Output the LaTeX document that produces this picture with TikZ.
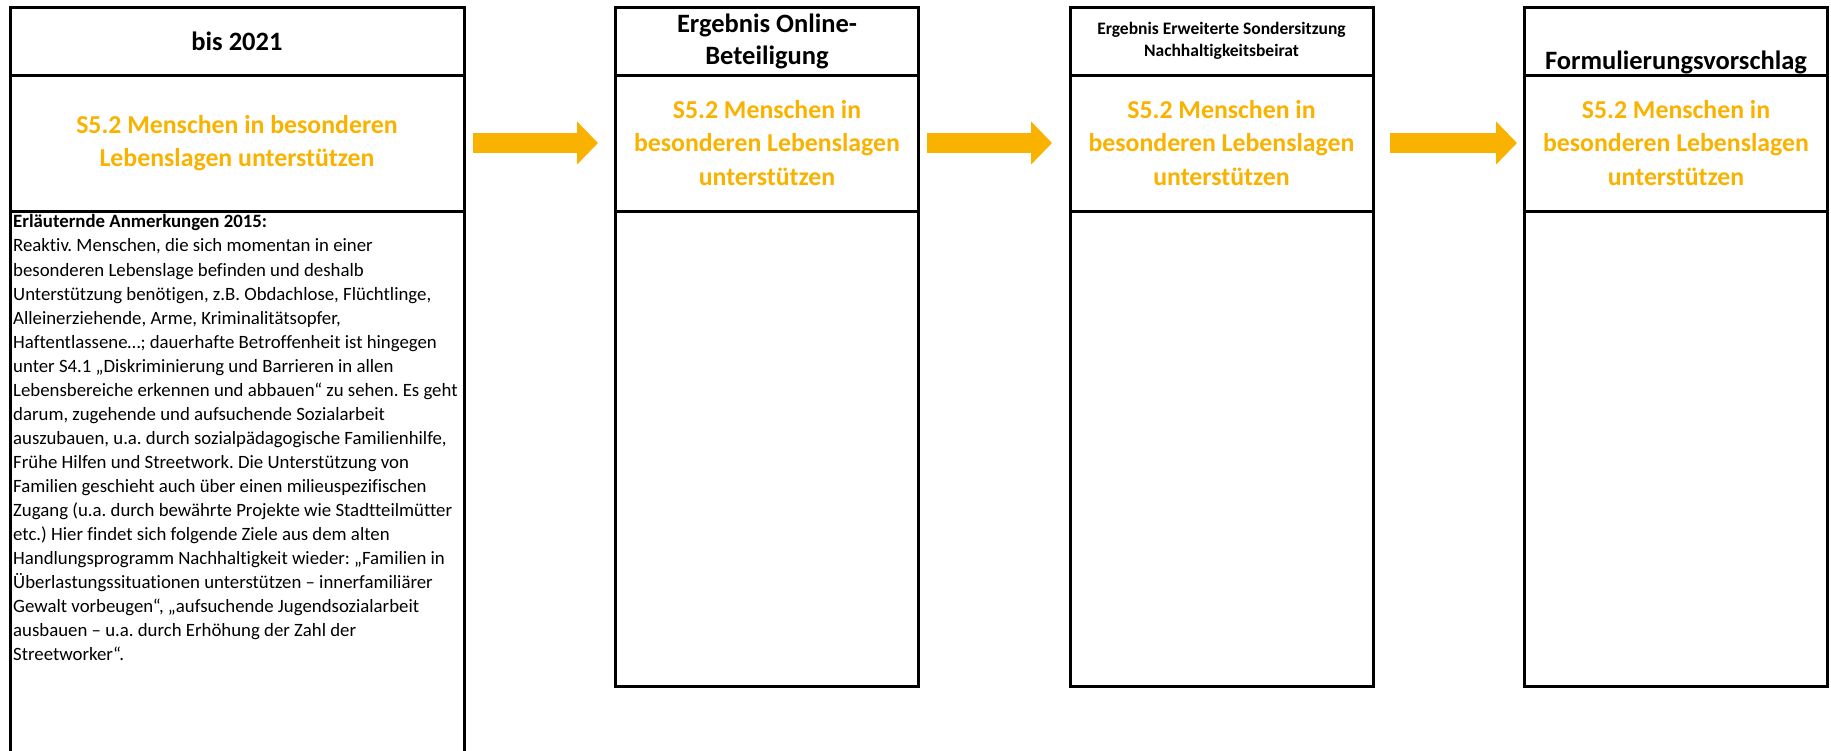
\documentclass[tikz,border=0pt]{standalone}
\usepackage{fontspec}
\setmainfont{Carlito}[Ligatures={NoCommon}]
\usetikzlibrary{positioning,arrows.meta}
\definecolor{Gelb}{RGB}{250,178,0}
\frenchspacing

\begin{document}
\begin{tikzpicture}[x=1pt,y=-1pt,
 zelle/.style={draw,line width=3pt,minimum width=303pt,inner sep=0pt,outer sep=0pt},
 kopf/.style={zelle,minimum height=68pt,align=center,font=\fontsize{26.5}{32}\selectfont\bfseries},
 titel/.style={zelle,minimum height=136pt,align=center,text=Gelb,font=\fontsize{25.8}{33.5}\selectfont\bfseries},
 rumpf/.style={zelle,minimum height=475pt},
 pfeil/.style={draw=Gelb,line width=20pt,-{Triangle[length=21pt,width=42pt]}}]
\useasboundingbox (0,0) rectangle (1831,750);

% bis 2021
\node[kopf,minimum width=454pt,anchor=north west] (kopf1) at (10,7) {bis 2021};
\node[titel,minimum width=454pt,below=0pt of kopf1] (titel1) {S5.2 Menschen in besonderen\\Lebenslagen unterstützen};
\node[rumpf,minimum width=454pt,minimum height=560pt,below=0pt of titel1] (rumpf1) {};
\node[anchor=north west,align=left,inner sep=0pt,font=\fontsize{18.8}{24.05}\selectfont] (text1)
 at ([xshift=3pt,yshift=-3.5pt]rumpf1.north west) {{\bfseries Erläuternde Anmerkungen 2015:}\\
Reaktiv. Menschen, die sich momentan in einer\\
besonderen Lebenslage befinden und deshalb\\
Unterstützung benötigen, z.B. Obdachlose, Flüchtlinge,\\
Alleinerziehende, Arme, Kriminalitätsopfer,\\
Haftentlassene…; dauerhafte Betroffenheit ist hingegen\\
unter S4.1 „Diskriminierung und Barrieren in allen\\
Lebensbereiche erkennen und abbauen“ zu sehen. Es geht\\
darum, zugehende und aufsuchende Sozialarbeit\\
auszubauen, u.a. durch sozialpädagogische Familienhilfe,\\
Frühe Hilfen und Streetwork. Die Unterstützung von\\
Familien geschieht auch über einen milieuspezifischen\\
Zugang (u.a. durch bewährte Projekte wie Stadtteilmütter\\
etc.) Hier findet sich folgende Ziele aus dem alten\\
Handlungsprogramm Nachhaltigkeit wieder: „Familien in\\
Überlastungssituationen unterstützen – innerfamiliärer\\
Gewalt vorbeugen“, „aufsuchende Jugendsozialarbeit\\
ausbauen – u.a. durch Erhöhung der Zahl der\\
Streetworker“.};

% Online-Beteiligung
\node[kopf,right=151.5pt of kopf1] (kopf2) {\raisebox{-3pt}{Ergebnis Online-}\\\raisebox{-3pt}{Beteiligung}};
\node[titel,below=0pt of kopf2] (titel2) {S5.2 Menschen in\\besonderen Lebenslagen\\unterstützen};
\node[rumpf,below=0pt of titel2] (rumpf2) {};

% Sondersitzung
\node[kopf,right=151.5pt of kopf2,font=\fontsize{17.5}{22}\selectfont\bfseries] (kopf3) {Ergebnis Erweiterte Sondersitzung\\Nachhaltigkeitsbeirat};
\node[titel,below=0pt of kopf3] (titel3) {S5.2 Menschen in\\besonderen Lebenslagen\\unterstützen};
\node[rumpf,below=0pt of titel3] (rumpf3) {};

% Formulierungsvorschlag
\node[kopf,right=151.5pt of kopf3] (kopf4) {};
\node[anchor=base,font=\fontsize{26.5}{32}\selectfont\bfseries] (kopftext4) at ([yshift=6pt]kopf4.south) {Formulierungsvorschlag};
\node[titel,below=0pt of kopf4] (titel4) {S5.2 Menschen in\\besonderen Lebenslagen\\unterstützen};
\node[rumpf,below=0pt of titel4] (rumpf4) {};

\draw[pfeil] ([xshift=9pt]titel1.east) -- ([xshift=-17.5pt]titel2.west);
\draw[pfeil] ([xshift=8.5pt]titel2.east) -- ([xshift=-18pt]titel3.west);
\draw[pfeil] ([xshift=17pt]titel3.east) -- ([xshift=-7.5pt]titel4.west);
\end{tikzpicture}
\end{document}
